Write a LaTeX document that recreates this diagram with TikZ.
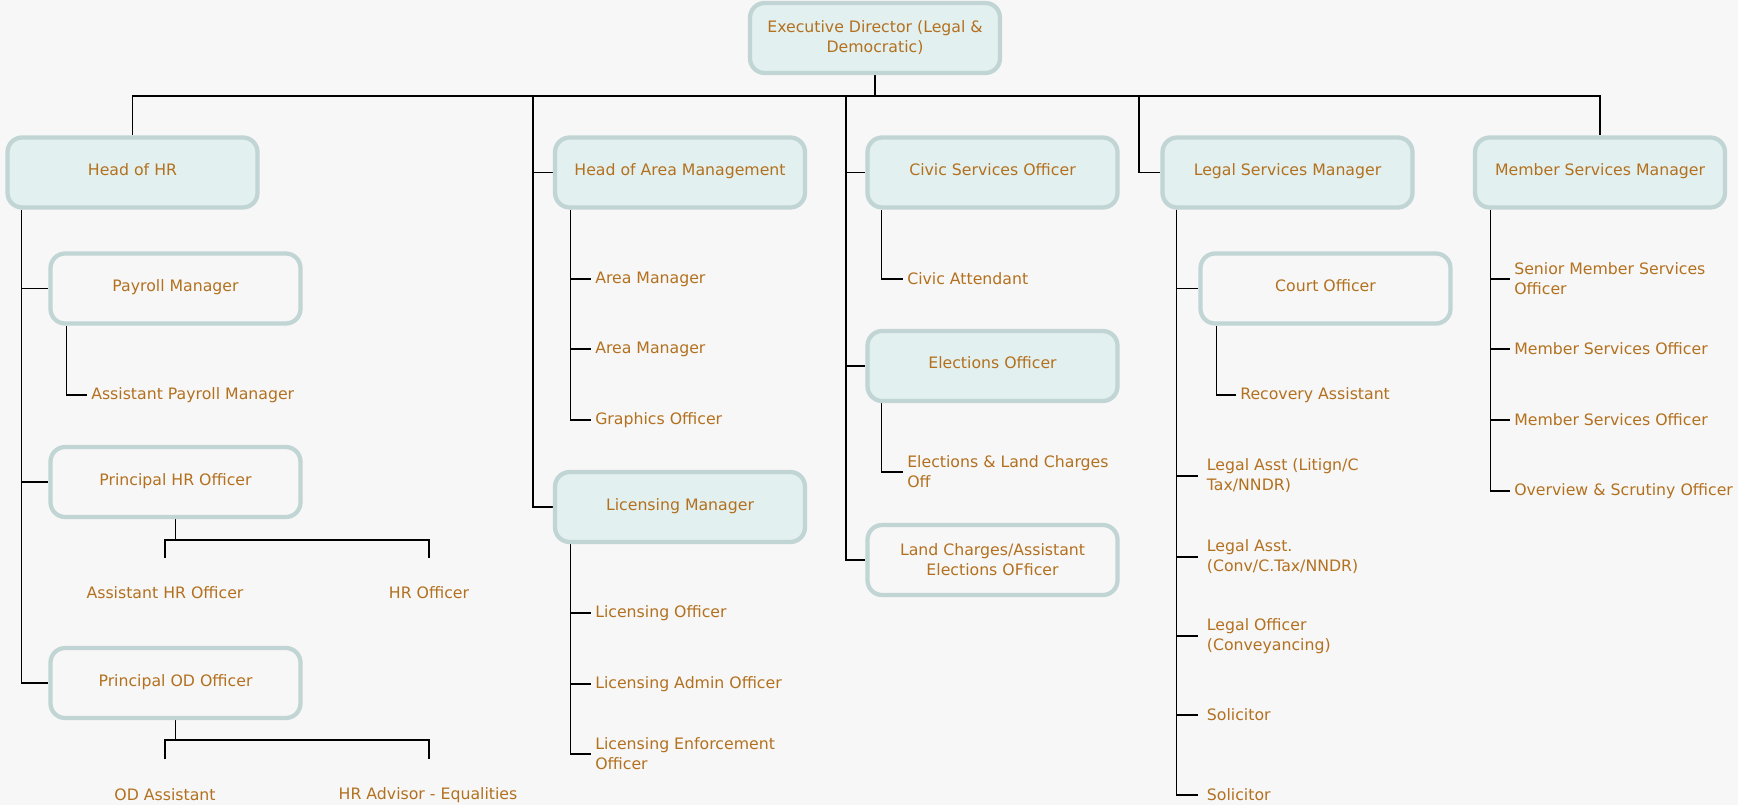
\documentclass[tikz,border=0pt]{standalone}
\usepackage{fontspec}
\setmainfont{DejaVu Sans}
\usetikzlibrary{backgrounds}
\definecolor{bg}{HTML}{F7F7F7}
\definecolor{tealf}{HTML}{E2F0EF}
\definecolor{bord}{HTML}{C0D5D4}
\definecolor{txt}{HTML}{B3711F}
\begin{document}
\begin{tikzpicture}[x=0.75pt,y=-0.75pt,
  every node/.style={font=\fontsize{11.8pt}{15pt}\selectfont, text=txt},
  tealbox/.style={draw=bord, line width=3.2pt, fill=tealf, rounded corners=11pt,
    minimum width=187.5pt, minimum height=52.5pt, inner sep=0pt, align=center},
  plainbox/.style={tealbox, fill=bg},
  one/.style={text height=9pt, text depth=4.5pt},
  leaf/.style={anchor=west, inner xsep=3pt, inner ysep=0pt, align=left},
  legalleaf/.style={leaf, inner xsep=6.5pt},
  conn/.style={draw=black, line width=1pt}
]
\useasboundingbox (0,0) rectangle (1738,805);
\begin{scope}[on background layer]
\fill[bg] (0,0) rectangle (1738,805);
\end{scope}

% boxes
\node[tealbox] (exec) at (875,38) {Executive Director (Legal \&\\Democratic)};
\node[tealbox,one] (hhr) at (132.5,172.5) {Head of HR};
\node[tealbox,one] (ham) at (680,172.5) {Head of Area Management};
\node[tealbox,one] (cso) at (992.5,172.5) {Civic Services Officer};
\node[tealbox,one] (lsm) at (1287.5,172.5) {Legal Services Manager};
\node[tealbox,one] (msm) at (1600,172.5) {Member Services Manager};
\node[plainbox,one] (payroll) at (175.5,288.5) {Payroll Manager};
\node[plainbox,one] (phr) at (175.5,482) {Principal HR Officer};
\node[plainbox,one] (pod) at (175.5,683) {Principal OD Officer};
\node[tealbox,one] (licm) at (680,507) {Licensing Manager};
\node[tealbox,one] (elec) at (992.5,366) {Elections Officer};
\node[plainbox] (lcae) at (992.5,560) {Land Charges/Assistant\\Elections OFficer};
\node[plainbox,one] (court) at (1325.5,288.5) {Court Officer};

% leaves
\node[leaf] (apm) at (87,395) {Assistant Payroll Manager};
\node (ahr) at (165,593) {Assistant HR Officer};
\node (hro) at (429,593) {HR Officer};
\node (oda) at (165,795) {OD Assistant};
\node (hra) at (428,795) {HR Advisor - Equalities};
\node[leaf] (am1) at (591,279) {Area Manager};
\node[leaf] (am2) at (591,349) {Area Manager};
\node[leaf] (gro) at (591,420) {Graphics Officer};
\node[leaf] (lio) at (591,613) {Licensing Officer};
\node[leaf] (lao) at (591,684) {Licensing Admin Officer};
\node[leaf] (leo) at (591,754) {Licensing Enforcement\\Officer};
\node[leaf] (cat) at (903,279) {Civic Attendant};
\node[leaf] (elc) at (903,472) {Elections \& Land Charges\\Off};
\node[leaf] (rca) at (1236,395) {Recovery Assistant};
\node[legalleaf] (la1) at (1198,476) {Legal Asst (Litign/C\\Tax/NNDR)};
\node[legalleaf] (la2) at (1198,557) {Legal Asst.\\(Conv/C.Tax/NNDR)};
\node[legalleaf] (lof) at (1198,636) {Legal Officer\\(Conveyancing)};
\node[legalleaf] (so1) at (1198,715) {Solicitor};
\node[legalleaf] (so2) at (1198,795) {Solicitor};
\node[leaf] (sms) at (1510,279) {Senior Member Services\\Officer};
\node[leaf] (ms1) at (1510,349) {Member Services Officer};
\node[leaf] (ms2) at (1510,420) {Member Services Officer};
\node[leaf] (oso) at (1510,491) {Overview \& Scrutiny Officer};

% coordinates
\coordinate (bar) at (875,96);
\coordinate (aT) at (533,96);
\coordinate (cT) at (846,96);
\coordinate (lT) at (1139,96);
\path (hhr.south west) ++(16,0) coordinate (hT);
\path (payroll.south west) ++(18,0) coordinate (pT);
\path (ham.south west) ++(17.5,0) coordinate (amT);
\path (licm.south west) ++(17.5,0) coordinate (lmT);
\path (cso.south west) ++(16,0) coordinate (csT);
\path (elec.south west) ++(16,0) coordinate (elT);
\path (lsm.south west) ++(16,0) coordinate (lsT);
\path (court.south west) ++(18,0) coordinate (coT);
\path (msm.south west) ++(17.5,0) coordinate (msT);
\coordinate (ahrT) at (165,558);
\coordinate (hroT) at (429,558);
\coordinate (odaT) at (165,759);
\coordinate (hraT) at (429,759);

\begin{scope}[on background layer]
\draw[conn] (exec.south) -- (bar);
\draw[conn] (hhr.north) |- (bar) -| (msm.north);
\draw[conn] (aT) |- (ham.west);
\draw[conn] (aT) |- (licm.west);
\draw[conn] (cT) |- (cso.west);
\draw[conn] (cT) |- (elec.west);
\draw[conn] (cT) |- (lcae.west);
\draw[conn] (lT) |- (lsm.west);
% HR
\draw[conn] (hT) |- (pod.west);
\draw[conn] (hT) |- (payroll.west);
\draw[conn] (hT) |- (phr.west);
\draw[conn] (pT) |- (apm.west);
\draw[conn] (phr.south) -- ++(0,21) coordinate (pj);
\draw[conn] (ahrT) |- (pj) -| (hroT);
\draw[conn] (pod.south) -- ++(0,20) coordinate (oj);
\draw[conn] (odaT) |- (oj) -| (hraT);
% Area
\draw[conn] (amT) |- (gro.west);
\draw[conn] (amT) |- (am1.west);
\draw[conn] (amT) |- (am2.west);
\draw[conn] (lmT) |- (leo.west);
\draw[conn] (lmT) |- (lio.west);
\draw[conn] (lmT) |- (lao.west);
% Civic
\draw[conn] (csT) |- (cat.west);
\draw[conn] (elT) |- (elc.west);
% Legal
\draw[conn] (lsT) |- (so2.west);
\draw[conn] (lsT) |- (court.west);
\draw[conn] (lsT) |- (la1.west);
\draw[conn] (lsT) |- (la2.west);
\draw[conn] (lsT) |- (lof.west);
\draw[conn] (lsT) |- (so1.west);
\draw[conn] (coT) |- (rca.west);
% Member
\draw[conn] (msT) |- (oso.west);
\draw[conn] (msT) |- (sms.west);
\draw[conn] (msT) |- (ms1.west);
\draw[conn] (msT) |- (ms2.west);
\end{scope}
\end{tikzpicture}
\end{document}
